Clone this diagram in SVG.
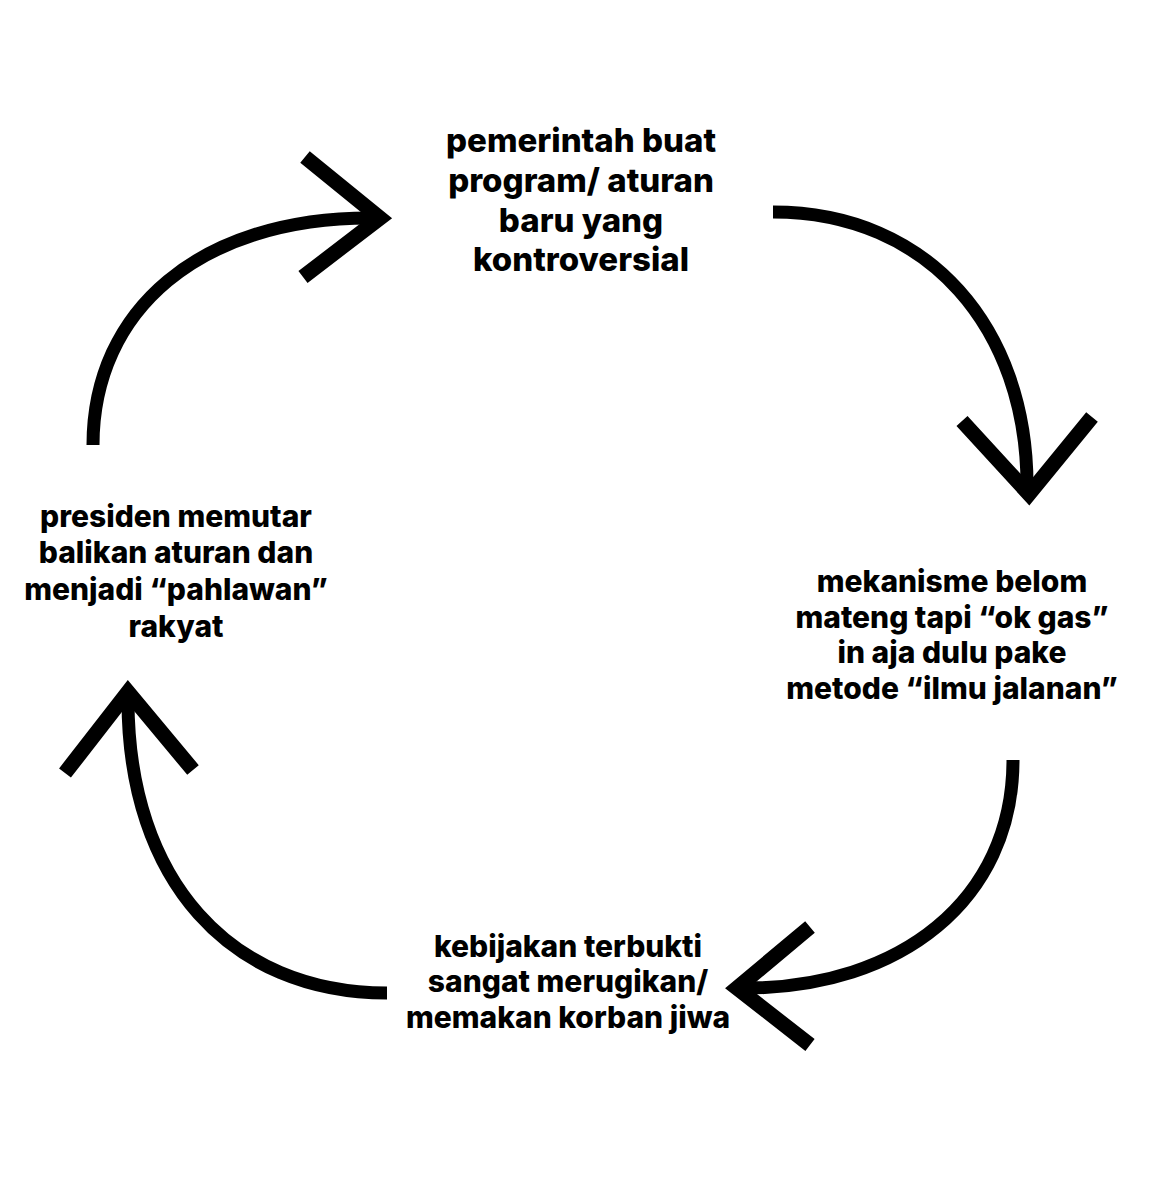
<svg xmlns="http://www.w3.org/2000/svg" width="1161" height="1200" viewBox="0 0 1161 1200">
<style>
.lbl{font-family:Inter,"Noto Sans","Liberation Sans",sans-serif;font-weight:800;fill:#000;text-anchor:middle}
.arc{fill:none;stroke:#000;stroke-width:13;stroke-linecap:butt}
.head{fill:none;stroke:#000;stroke-width:15;stroke-linejoin:miter;stroke-miterlimit:10;stroke-linecap:butt}
</style>
<rect width="1161" height="1200" fill="#fff"/>
<g id="connectors">
<path class="arc" d="M93,445 C93,310 200,218 370,218"/>
<polyline class="head" points="305,157 380,218 303,277"/>
<path class="arc" d="M773,212 C930,212 1027,330 1027,485"/>
<polyline class="head" points="962,421 1029,494 1092,417"/>
<path class="arc" d="M1013,760 C1013,900 900,988 745,988"/>
<polyline class="head" points="810,927 737,988 810,1045"/>
<path class="arc" d="M387,993 C230,993 128,880 128,700"/>
<polyline class="head" points="65,773 128,692 193,770"/>
</g>
<g id="node-top">
<text class="lbl" font-size="33" x="581" y="152">pemerintah buat</text>
<text class="lbl" font-size="33" x="581" y="192">program/ aturan</text>
<text class="lbl" font-size="33" x="581" y="232">baru yang</text>
<text class="lbl" font-size="33" x="581" y="271">kontroversial</text>
</g>
<g id="node-right">
<text class="lbl" font-size="30" x="952" y="592">mekanisme belom</text>
<text class="lbl" font-size="30" x="952" y="628">mateng tapi “ok gas”</text>
<text class="lbl" font-size="30" x="952" y="663">in aja dulu pake</text>
<text class="lbl" font-size="30" x="952" y="699">metode “ilmu jalanan”</text>
</g>
<g id="node-bottom">
<text class="lbl" font-size="30" x="568" y="957">kebijakan terbukti</text>
<text class="lbl" font-size="30" x="568" y="992">sangat merugikan/</text>
<text class="lbl" font-size="30" x="568" y="1028">memakan korban jiwa</text>
</g>
<g id="node-left">
<text class="lbl" font-size="30" x="176" y="527">presiden memutar</text>
<text class="lbl" font-size="30" x="176" y="563">balikan aturan dan</text>
<text class="lbl" font-size="30" x="176" y="600">menjadi “pahlawan”</text>
<text class="lbl" font-size="30" x="176" y="637">rakyat</text>
</g>
</svg>
